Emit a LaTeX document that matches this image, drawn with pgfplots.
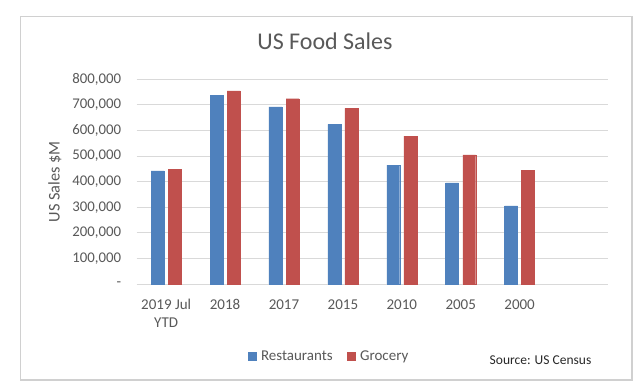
\documentclass[border=0pt]{standalone}
\usepackage{pgfplots}
\pgfplotsset{compat=1.18}
\usepackage{fontspec}
\setmainfont{Carlito}
\definecolor{rest}{RGB}{79,129,189}
\definecolor{groc}{RGB}{192,80,77}
\definecolor{txt}{RGB}{89,89,89}
\definecolor{gridc}{RGB}{217,217,217}
\definecolor{framec}{RGB}{208,208,208}
\begin{document}
\begin{tikzpicture}[x=1pt,y=1pt]
\path[fill=white] (0,0) rectangle (640,391);
\draw[framec, line width=1.2pt] (20.6,11) rectangle (632,374.3);
\begin{axis}[
  at={(136.7pt,107pt)}, anchor=south west,
  scale only axis, width=471.3pt, height=204.7pt,
  xmin=-0.5, xmax=7.5, ymin=0, ymax=800000,
  scaled y ticks=false,
  ytick={0,100000,200000,300000,400000,500000,600000,700000,800000},
  yticklabels={{-},{100,000},{200,000},{300,000},{400,000},{500,000},{600,000},{700,000},{800,000}},
  xtick={0,1,2,3,4,5,6},
  xticklabels={{2019 Jul\\YTD},2018,2017,2015,2010,2005,2000},
  xticklabel style={align=center, font=\fontsize{15}{18}\selectfont, text=txt, yshift=-12pt},
  yticklabel style={font=\fontsize{14.8}{17}\selectfont, text=txt, xshift=-12pt},
  axis line style={draw=none}, tick style={draw=none},
  ymajorgrids, grid style={gridc, line width=0.9pt},
  ylabel={US Sales \$M},
  ylabel style={at={(axis description cs:-0.1734,0.5)}, anchor=center, rotate=0, font=\fontsize{16.3}{19}\selectfont, text=txt},
  title={US Food Sales},
  title style={at={(axis description cs:0.3995,1.155)}, anchor=center, font=\fontsize{24}{28}\selectfont, text=txt},
  legend style={at={(axis description cs:0.408,-0.352)}, anchor=center, draw=none, fill=none,
    legend columns=-1, font=\fontsize{15}{18}\selectfont, text=txt,
    /tikz/every odd column/.append style={column sep=3pt},
    /tikz/every even column/.append style={column sep=12pt}},
  legend image code/.code={\fill (0pt,-4pt) rectangle (8pt,4pt);},
  legend cell align=left,
]
\addplot[ybar, bar width=0.22, bar shift=-0.145, fill=rest, draw=rest] coordinates {
 (0,442000) (1,737000) (2,692000) (3,624000) (4,465000) (5,395000) (6,305000)};
\addlegendentry{Restaurants}
\addplot[ybar, bar width=0.22, bar shift=0.145, fill=groc, draw=groc] coordinates {
 (0,448000) (1,755000) (2,724000) (3,686000) (4,578000) (5,505000) (6,443000)};
\addlegendentry{Grocery}
\end{axis}
\node[anchor=center, font=\fontsize{13.5}{16}\selectfont, text={rgb,255:red,40;green,40;blue,40}] at (540.5,31) {Source: US Census};
\end{tikzpicture}
\end{document}
